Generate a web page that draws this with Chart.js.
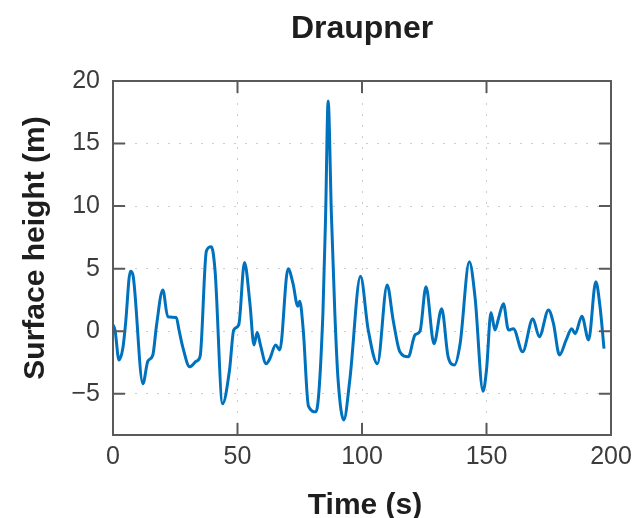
<!DOCTYPE html>
<html>
<head>
<meta charset="utf-8">
<script src="https://cdn.jsdelivr.net/npm/chart.js@4/dist/chart.umd.min.js"></script>
<style>
  html, body { margin: 0; padding: 0; background: #ffffff; }
  #wrap { width: 635px; height: 518px; }
</style>
</head>
<body>
<div id="wrap"><canvas id="waveChart" width="635" height="518"></canvas></div>
<script>
// =========================
// DATA
// =========================

const times = [
    0, 0.8, 2.4, 4, 5, 7, 8, 12, 14, 16, 17.5, 20, 22, 25.4, 26.5, 28, 30.8, 33.5, 35,
    37.5, 39.5, 41, 44, 46.8, 48.5, 50.5, 52.8, 55, 56.6, 57.9, 59.2, 61.5, 63, 65.3, 67,
    70.3, 72.3, 74.2, 75, 76.4, 78.5, 81.5, 84.3, 85.4, 86.4, 87.7, 89.1, 90.4, 92.7, 95.1,
    99.4, 102.5, 106.2, 110.1, 112.5, 115.2, 118.6, 121.3, 123.3, 125.7, 128.9, 132, 134.6,
    137.1, 139.4, 143.1, 145.4, 148.6, 150, 151.8, 153.4, 154.8, 156.8, 158.8, 160.8, 164.5,
    168.6, 171.2, 174.9, 176.9, 179.3, 182, 184.2, 185.6, 188.3, 191, 193.9, 195.6, 197.2
];

const heights = [
    0.5, 0.1, -2.3, -1.3, 0.5, 4.8, 4.5, -4.2, -2.4, -1.9, 0.5, 3.3, 1.15, 1.1, 0.1, -1.25, -2.85, -2.4, -2.0,
    6.4, 6.75, 4.8, -5.8, -3.1, 0.1, 0.5, 5.5, 2.2, -1.1, -0.1, -1.1, -2.6, -2.2, -1.1, -1.5,
    5.0, 3.8, 2.0, 2.4, 0.1, -6.0, -6.45, 1.4, 9.4, 18.4, 9.4, 1.4, -3.9, -7.1, -3.9,
    4.4, 0.1, -2.6, 3.7, 0.9, -1.65, -2.05, -0.3, 0.0, 3.55, -1.0, 1.8, -2.05,
    -2.7, -1.0, 5.55, 2.7, -4.8, -3.1, 1.5, 0.1, 1.0, 2.2, 0.1, 0.2, -1.65,
    1.0, -0.45, 1.7, 0.6, -1.9, -0.7, 0.2, -0.2, 1.2, -0.7, 3.95, 1.95, -1.4
];

const xTicks = [0, 50, 100, 150, 200];
const yTicks = [-5, 0, 5, 10, 15, 20];

const chartTitle = "Draupner";
const xTitle = "Time (s)";
const yTitle = "Surface height (m)";

const FONT = "'Liberation Sans', Arial, Helvetica, sans-serif";

// =========================
// BOX, INWARD TICKS, TITLES
// =========================

const boxTicks = {
    id: "boxTicks",
    afterDatasetsDraw(chart) {
        const { ctx, chartArea: a, scales } = chart;
        const len = 12;
        ctx.save();
        ctx.strokeStyle = "#5a5a5a";
        ctx.lineWidth = 2;
        ctx.beginPath();
        xTicks.forEach(v => {
            const px = scales.x.getPixelForValue(v);
            ctx.moveTo(px, a.bottom); ctx.lineTo(px, a.bottom - len);
            ctx.moveTo(px, a.top); ctx.lineTo(px, a.top + len);
        });
        yTicks.forEach(v => {
            const py = scales.y.getPixelForValue(v);
            ctx.moveTo(a.left, py); ctx.lineTo(a.left + len, py);
            ctx.moveTo(a.right, py); ctx.lineTo(a.right - len, py);
        });
        ctx.stroke();
        ctx.strokeRect(a.left, a.top, a.right - a.left, a.bottom - a.top);

        // titles
        const cx = (a.left + a.right) / 2;
        ctx.fillStyle = "#1e1e1e";
        ctx.textAlign = "center";
        ctx.textBaseline = "alphabetic";
        ctx.font = "bold 32px " + FONT;
        ctx.fillText(chartTitle, cx, 38);
        ctx.font = "bold 30px " + FONT;
        ctx.fillText(xTitle, cx + 3, 514);
        ctx.translate(44, 248);
        ctx.rotate(-Math.PI / 2);
        ctx.fillText(yTitle, 0, 0);
        ctx.restore();
    }
};

// =========================
// CHART
// =========================

new Chart(document.getElementById("waveChart"), {
    type: "line",
    data: {
        datasets: [{
            data: times.map((t, i) => ({ x: t, y: heights[i] })),
            borderColor: "rgb(0, 114, 189)",
            borderWidth: 3,
            pointRadius: 0,
            cubicInterpolationMode: "monotone",
            fill: false
        }]
    },
    options: {
        responsive: false,
        animation: false,
        layout: { padding: { left: 0, right: 24, top: 81, bottom: 0 } },
        plugins: {
            legend: { display: false },
            tooltip: { enabled: false },
            title: { display: false }
        },
        scales: {
            x: {
                type: "linear",
                min: 0,
                max: 200,
                afterBuildTicks: s => { s.ticks = xTicks.map(v => ({ value: v })); },
                afterFit: s => { s.height = 83; s.paddingLeft = 0; s.paddingRight = 0; },
                grid: { color: "rgba(0,0,0,0.2)", lineWidth: 1, drawTicks: false },
                border: { display: false, dash: [2, 9] },
                ticks: {
                    color: "#3c3c3c",
                    padding: 7,
                    maxRotation: 0,
                    font: { family: FONT, size: 25 }
                }
            },
            y: {
                type: "linear",
                min: -8.3,
                max: 20,
                afterBuildTicks: s => { s.ticks = yTicks.map(v => ({ value: v })); },
                afterFit: s => { s.width = 113; s.paddingTop = 0; s.paddingBottom = 0; },
                grid: { color: "rgba(0,0,0,0.2)", lineWidth: 1, drawTicks: false },
                border: { display: false, dash: [2, 9] },
                ticks: {
                    color: "#3c3c3c",
                    padding: 13,
                    font: { family: FONT, size: 25 },
                    callback: v => String(v).replace("-", "\u2212")
                }
            }
        }
    },
    plugins: [boxTicks]
});
</script>
</body>
</html>
